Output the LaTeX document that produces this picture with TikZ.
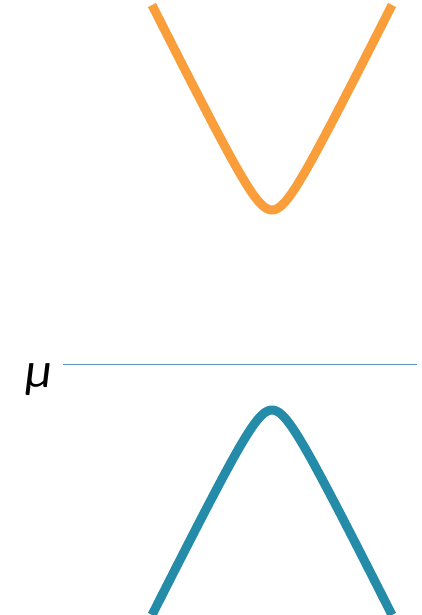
\documentclass[tikz,border=0pt]{standalone}
\usepackage{fontspec}
\newfontfamily\mufont{Carlito}
\definecolor{orangec}{RGB}{249,158,58}
\definecolor{bluec}{RGB}{36,139,168}
\definecolor{linec}{RGB}{96,146,196}
\begin{document}
\begin{tikzpicture}[x=1pt,y=-1pt,
  band/.style={line width=9pt,line cap=butt,line join=round}]
\useasboundingbox (0,0) rectangle (421,615);
\draw[band,orangec] plot[domain=-120:120,samples=121,smooth] ({272+\x},{248-2*sqrt(\x*\x+361)});
\draw[band,bluec] plot[domain=-120:120,samples=121,smooth] ({272+\x},{372+2*sqrt(\x*\x+361)});
\coordinate (l0) at (63,364.5);
\coordinate (l1) at (417,364.5);
\draw[linec,line width=1pt] (l0) -- (l1);
\node[font=\mufont\itshape\fontsize{50}{50}\selectfont,inner sep=0pt,anchor=base] (mu) at (39,387) {μ};
\end{tikzpicture}
\end{document}
